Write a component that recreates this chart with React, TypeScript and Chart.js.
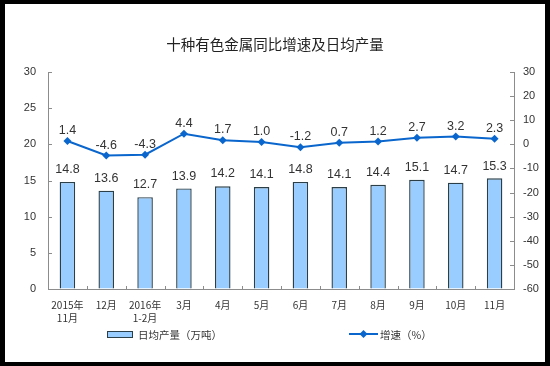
import React, { useEffect, useRef } from "react";
import { Chart, registerables } from "chart.js";

Chart.register(...registerables);

const categories: (string | string[])[] = [
  ["2015年", "11月"], "12月", ["2016年", "1-2月"], "3月", "4月", "5月",
  "6月", "7月", "8月", "9月", "10月", "11月",
];
const dailyOutput = [14.8, 13.6, 12.7, 13.9, 14.2, 14.1, 14.8, 14.1, 14.4, 15.1, 14.7, 15.3];
const growthRate = [1.4, -4.6, -4.3, 4.4, 1.7, 1.0, -1.2, 0.7, 1.2, 2.7, 3.2, 2.3];
const titleText = "十种有色金属同比增速及日均产量";
const barLegend = "日均产量（万吨）";
const lineLegend = "增速（%）";

const BAR_FILL = "#99CCFF";
const BAR_BORDER = "#2A3F48";
const LINE_COLOR = "#0A66CC";
const AXIS_COLOR = "#8C8C8C";
const TEXT_COLOR = "#333333";
const CJK = '"Noto Sans CJK SC", sans-serif';
const LATIN = '"Liberation Sans", Arial, sans-serif';

const decorPlugin = {
  id: "decor",
  beforeDraw(chart: any) {
    const ctx = chart.ctx;
    ctx.save();
    ctx.fillStyle = "#000";
    ctx.fillRect(0, 0, chart.width, chart.height);
    ctx.fillStyle = "#fff";
    ctx.fillRect(5, 4, chart.width - 10, chart.height - 8);
    ctx.restore();
  },
  afterDraw(chart: any) {
    const ctx = chart.ctx;
    const area = chart.chartArea;
    ctx.save();
    // inner tick marks
    ctx.strokeStyle = AXIS_COLOR;
    ctx.lineWidth = 1;
    const yl = chart.scales.y;
    yl.ticks.forEach((t: any) => {
      const y = Math.round(yl.getPixelForValue(t.value)) + 0.5;
      ctx.beginPath();
      ctx.moveTo(area.left, y);
      ctx.lineTo(area.left + 4, y);
      ctx.stroke();
    });
    const yr = chart.scales.y1;
    yr.ticks.forEach((t: any) => {
      const y = Math.round(yr.getPixelForValue(t.value)) + 0.5;
      ctx.beginPath();
      ctx.moveTo(area.right - 4, y);
      ctx.lineTo(area.right, y);
      ctx.stroke();
    });
    const n = categories.length;
    const w = (area.right - area.left) / n;
    for (let i = 1; i < n; i++) {
      const x = Math.round(area.left + i * w) + 0.5;
      ctx.beginPath();
      ctx.moveTo(x, area.bottom);
      ctx.lineTo(x, area.bottom - 3);
      ctx.stroke();
    }

    // data labels
    ctx.fillStyle = TEXT_COLOR;
    ctx.textAlign = "center";
    ctx.textBaseline = "bottom";
    ctx.font = `12.5px ${LATIN}`;
    chart.getDatasetMeta(0).data.forEach((el: any, i: number) => {
      ctx.fillText(dailyOutput[i].toFixed(1), el.x, el.y - 6);
    });
    chart.getDatasetMeta(1).data.forEach((el: any, i: number) => {
      ctx.fillText(growthRate[i].toFixed(1), el.x, el.y - 4);
    });

    // title
    ctx.fillStyle = "#222";
    ctx.font = `14.5px ${CJK}`;
    ctx.textBaseline = "middle";
    ctx.fillText(titleText, 275, 44);

    // legend
    const ly = 334;
    ctx.fillStyle = BAR_FILL;
    ctx.fillRect(107, ly - 3, 26, 6);
    ctx.strokeStyle = BAR_BORDER;
    ctx.lineWidth = 1;
    ctx.strokeRect(107.5, ly - 2.5, 25, 6);
    ctx.fillStyle = TEXT_COLOR;
    ctx.textAlign = "left";
    ctx.font = `10.5px ${CJK}`;
    ctx.fillText(barLegend, 138, ly + 1);

    ctx.strokeStyle = LINE_COLOR;
    ctx.lineWidth = 2;
    ctx.beginPath();
    ctx.moveTo(349, ly);
    ctx.lineTo(378, ly);
    ctx.stroke();
    ctx.fillStyle = LINE_COLOR;
    ctx.beginPath();
    ctx.moveTo(363.5, ly - 4);
    ctx.lineTo(367.5, ly);
    ctx.lineTo(363.5, ly + 4);
    ctx.lineTo(359.5, ly);
    ctx.closePath();
    ctx.fill();
    ctx.fillStyle = TEXT_COLOR;
    ctx.fillText(lineLegend, 380, ly + 1);
    ctx.restore();
  },
};

export default function App() {
  const ref = useRef<HTMLCanvasElement | null>(null);
  useEffect(() => {
    if (!ref.current) return;
    const chart = new Chart(ref.current, {
      type: "bar",
      data: {
        labels: categories as any,
        datasets: [
          {
            type: "bar",
            label: barLegend,
            data: dailyOutput,
            backgroundColor: BAR_FILL,
            borderColor: BAR_BORDER,
            borderWidth: 1.4,
            barPercentage: 0.4,
            categoryPercentage: 1,
            yAxisID: "y",
            order: 2,
          },
          {
            type: "line",
            label: lineLegend,
            data: growthRate,
            borderColor: LINE_COLOR,
            backgroundColor: LINE_COLOR,
            borderWidth: 2,
            pointStyle: "rectRot",
            pointRadius: 4,
            pointBorderWidth: 0,
            tension: 0,
            yAxisID: "y1",
            order: 1,
          },
        ],
      },
      options: {
        responsive: false,
        animation: false,
        devicePixelRatio: 1,
        layout: { padding: { top: 72, left: 0, right: 0, bottom: 0 } },
        plugins: {
          legend: { display: false },
          title: { display: false },
          tooltip: { enabled: false },
        },
        scales: {
          x: {
            offset: true,
            grid: { display: true, drawOnChartArea: false, drawTicks: false },
            border: { color: AXIS_COLOR, width: 1 },
            ticks: {
              color: TEXT_COLOR,
              font: { size: 10, family: CJK, lineHeight: 1.3 },
              padding: 10,
              maxRotation: 0,
              autoSkip: false,
            },
            afterFit: (s: any) => { s.height = 77; },
          },
          y: {
            position: "left",
            min: 0,
            max: 30,
            grid: { display: true, drawOnChartArea: false, drawTicks: false },
            border: { color: AXIS_COLOR, width: 1 },
            ticks: {
              stepSize: 5,
              color: TEXT_COLOR,
              font: { size: 11, family: LATIN },
              padding: 12,
            },
            afterFit: (s: any) => { s.width = 48; },
          },
          y1: {
            position: "right",
            min: -60,
            max: 30,
            grid: { display: true, drawOnChartArea: false, drawTicks: false },
            border: { color: AXIS_COLOR, width: 1 },
            ticks: {
              stepSize: 10,
              color: TEXT_COLOR,
              font: { size: 11, family: LATIN },
              padding: 9,
            },
            afterFit: (s: any) => { s.width = 36; },
          },
        },
      },
      plugins: [decorPlugin],
    });
    return () => chart.destroy();
  }, []);
  return (
    <div style={{ position: "fixed", left: 0, top: 0, width: 550, height: 366 }}>
      <canvas ref={ref} width={550} height={366} style={{ display: "block", width: 550, height: 366 }} />
    </div>
  );
}
